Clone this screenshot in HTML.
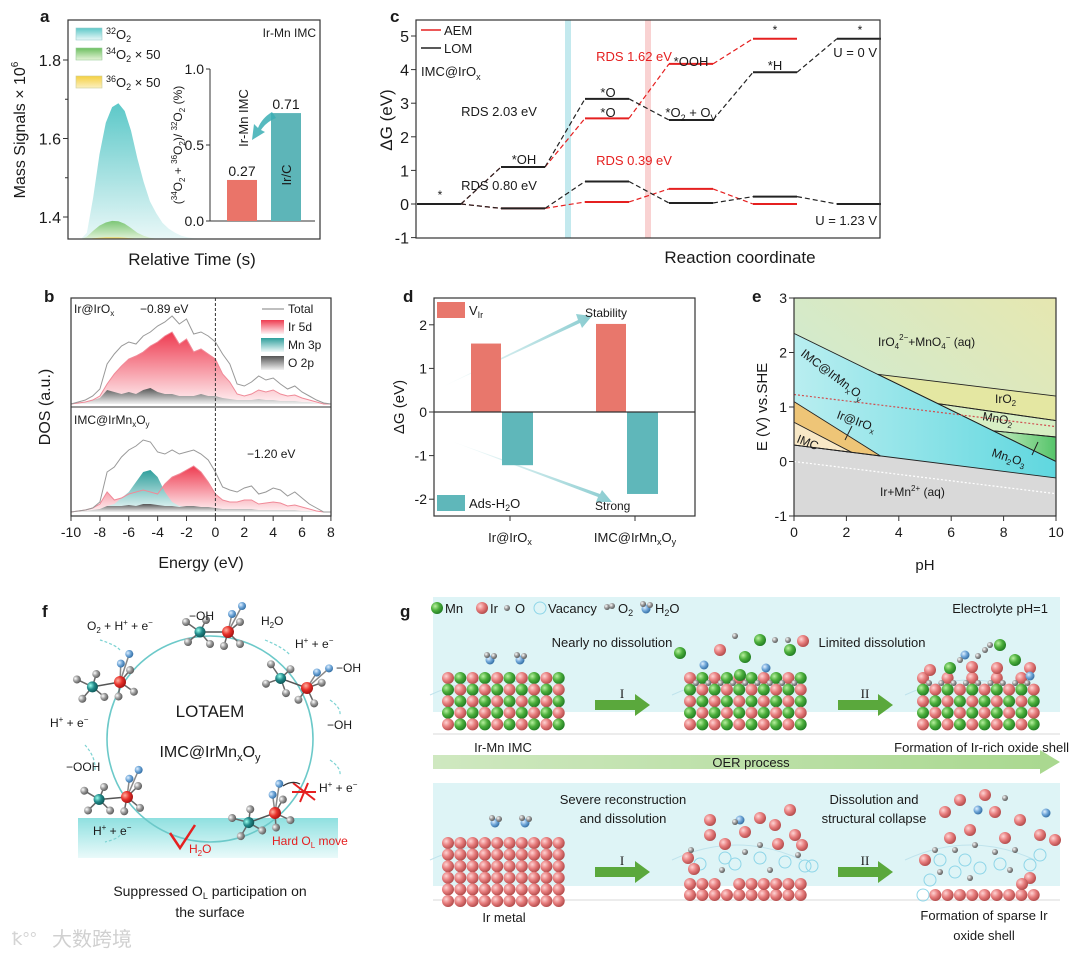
<!DOCTYPE html>
<html><head><meta charset="utf-8"><style>
html,body{margin:0;padding:0;background:#fff;}
svg{display:block;font-family:"Liberation Sans","Noto Sans CJK SC",sans-serif;}
text{fill:#1a1a1a;}
</style></head><body>
<svg id="fig" width="1080" height="956" viewBox="0 0 1080 956" xmlns="http://www.w3.org/2000/svg">
<defs>
<linearGradient id="gTeal" x1="0" y1="0" x2="0" y2="1"><stop offset="0" stop-color="#5cc8c8"/><stop offset="1" stop-color="#eaf8f8"/></linearGradient>
<linearGradient id="gGreen" x1="0" y1="0" x2="0" y2="1"><stop offset="0" stop-color="#6cbf60"/><stop offset="1" stop-color="#e6f4d8"/></linearGradient>
<linearGradient id="gYel" x1="0" y1="0" x2="0" y2="1"><stop offset="0" stop-color="#f5d040"/><stop offset="1" stop-color="#fbf0c0"/></linearGradient>
<linearGradient id="gRed" x1="0" y1="0" x2="0" y2="1"><stop offset="0" stop-color="#ee3b50"/><stop offset="1" stop-color="#fff2f4"/></linearGradient>
<linearGradient id="gMn" x1="0" y1="0" x2="0" y2="1"><stop offset="0" stop-color="#2f9f9c"/><stop offset="1" stop-color="#f0fafa"/></linearGradient>
<linearGradient id="gO" x1="0" y1="0" x2="0" y2="1"><stop offset="0" stop-color="#555"/><stop offset="1" stop-color="#f2f2f2"/></linearGradient>
<linearGradient id="gBg" x1="0" y1="1" x2="1" y2="0"><stop offset="0" stop-color="#c6ecdf"/><stop offset="1" stop-color="#e6e7b0"/></linearGradient>
<linearGradient id="gCyan" x1="0" y1="0" x2="1" y2="0"><stop offset="0" stop-color="#b9eef0"/><stop offset="1" stop-color="#5fd7df"/></linearGradient>
<linearGradient id="gMn2O3" x1="0" y1="0" x2="1" y2="0"><stop offset="0" stop-color="#c6ecc0"/><stop offset="1" stop-color="#55c46a"/></linearGradient>
<linearGradient id="gArr" x1="0" y1="0" x2="1" y2="0"><stop offset="0" stop-color="#4cb5bb" stop-opacity="0"/><stop offset="1" stop-color="#3aa9b0" stop-opacity="0.85"/></linearGradient>
<linearGradient id="gBand" x1="0" y1="0" x2="0" y2="1"><stop offset="0" stop-color="#8fe0e0"/><stop offset="1" stop-color="#eafafa"/></linearGradient>
<linearGradient id="gOER" x1="0" y1="0" x2="1" y2="0"><stop offset="0" stop-color="#cfe8c0"/><stop offset="1" stop-color="#a9d88f"/></linearGradient>
<radialGradient id="aMn" cx="0.35" cy="0.35" r="0.7"><stop offset="0" stop-color="#b8f0a0"/><stop offset="0.5" stop-color="#4caf3c"/><stop offset="1" stop-color="#1f7a22"/></radialGradient>
<radialGradient id="aIr" cx="0.35" cy="0.35" r="0.7"><stop offset="0" stop-color="#ffd4d4"/><stop offset="0.5" stop-color="#e77d7d"/><stop offset="1" stop-color="#b04848"/></radialGradient>
<radialGradient id="aO" cx="0.35" cy="0.35" r="0.7"><stop offset="0" stop-color="#fff"/><stop offset="0.5" stop-color="#9a9a9a"/><stop offset="1" stop-color="#555"/></radialGradient>
<radialGradient id="aH" cx="0.35" cy="0.35" r="0.7"><stop offset="0" stop-color="#e0f0ff"/><stop offset="0.5" stop-color="#6fa6d8"/><stop offset="1" stop-color="#2f6aa0"/></radialGradient>
<radialGradient id="aTeal" cx="0.35" cy="0.35" r="0.7"><stop offset="0" stop-color="#9fe"/><stop offset="0.5" stop-color="#228a8a"/><stop offset="1" stop-color="#0d5555"/></radialGradient>
<radialGradient id="aRed" cx="0.35" cy="0.35" r="0.7"><stop offset="0" stop-color="#ffb0a0"/><stop offset="0.5" stop-color="#e8312a"/><stop offset="1" stop-color="#a01010"/></radialGradient>
<clipPath id="clipA"><rect x="68" y="20" width="252" height="219"/></clipPath>
<clipPath id="clipE"><rect x="794" y="298" width="262" height="218"/></clipPath>
</defs>

<!-- PANEL A -->
<g id="panelA">
<text x="40" y="22" font-size="17" font-weight="bold">a</text>
<g id="aMarks" clip-path="url(#clipA)"></g>
<rect x="68" y="20" width="252" height="219" fill="none" stroke="#333" stroke-width="1.2"/>
<g id="aTicks"></g>
<text transform="translate(25,130) rotate(-90)" text-anchor="middle" font-size="16">Mass Signals × 10<tspan font-size="10" dy="-7">6</tspan></text>
<text x="192" y="265" text-anchor="middle" font-size="17">Relative Time (s)</text>
<rect x="76" y="28" width="26" height="12" fill="url(#gTeal)" stroke="#9cc" stroke-width="0.6"/>
<text x="106" y="39" font-size="13"><tspan font-size="9" dy="-5">32</tspan><tspan dy="5">O</tspan><tspan font-size="9" dy="3">2</tspan></text>
<rect x="76" y="48" width="26" height="12" fill="url(#gGreen)" stroke="#9c9" stroke-width="0.6"/>
<text x="106" y="59" font-size="13"><tspan font-size="9" dy="-5">34</tspan><tspan dy="5">O</tspan><tspan font-size="9" dy="3">2</tspan><tspan dy="-3"> × 50</tspan></text>
<rect x="76" y="76" width="26" height="12" fill="url(#gYel)" stroke="#cc9" stroke-width="0.6"/>
<text x="106" y="87" font-size="13"><tspan font-size="9" dy="-5">36</tspan><tspan dy="5">O</tspan><tspan font-size="9" dy="3">2</tspan><tspan dy="-3"> × 50</tspan></text>
<text x="316" y="37" text-anchor="end" font-size="12">Ir-Mn IMC</text>
<g id="aInset"></g>
<text transform="translate(182,145) rotate(-90)" text-anchor="middle" font-size="12">(<tspan font-size="8" dy="-5">34</tspan><tspan dy="5">O</tspan><tspan font-size="8" dy="3">2</tspan><tspan dy="-3"> + </tspan><tspan font-size="8" dy="-5">36</tspan><tspan dy="5">O</tspan><tspan font-size="8" dy="3">2</tspan><tspan dy="-3">)/ </tspan><tspan font-size="8" dy="-5">32</tspan><tspan dy="5">O</tspan><tspan font-size="8" dy="3">2</tspan><tspan dy="-3"> (%)</tspan></text>
<text transform="translate(248,118) rotate(-90)" text-anchor="middle" font-size="13">Ir-Mn IMC</text>
<text transform="translate(291,175) rotate(-90)" text-anchor="middle" font-size="13">Ir/C</text>
<path d="M272,112 Q262,118 258,128 L254,124 L252,140 L265,132 L261,130 Q266,122 276,118 Z" fill="#3aaeb4" opacity="0.85"/>
</g>

<!-- PANEL C -->
<g id="panelC">
<text x="390" y="22" font-size="17" font-weight="bold">c</text>
<rect x="565" y="20" width="6" height="218" fill="#c3e9ee"/>
<rect x="645" y="20" width="6" height="218" fill="#f9d2d2"/>
<g id="cMarks"></g>
<rect x="416" y="20" width="464" height="218" fill="none" stroke="#333" stroke-width="1.2"/>
<g id="cTicks"></g>
<text transform="translate(392,120) rotate(-90)" text-anchor="middle" font-size="17">ΔG (eV)</text>
<text x="740" y="263" text-anchor="middle" font-size="17">Reaction coordinate</text>
<line x1="421" y1="30" x2="441" y2="30" stroke="#e52020" stroke-width="1.6"/>
<text x="444" y="35" font-size="13">AEM</text>
<line x1="421" y1="48" x2="441" y2="48" stroke="#222" stroke-width="1.6"/>
<text x="444" y="53" font-size="13">LOM</text>
<text x="421" y="76" font-size="13">IMC@IrO<tspan font-size="9" dy="4">x</tspan></text>
<text x="440" y="199" text-anchor="middle" font-size="12">*</text>
<text x="524" y="164" text-anchor="middle" font-size="13">*OH</text>
<text x="499" y="116" text-anchor="middle" font-size="13">RDS 2.03 eV</text>
<text x="499" y="190" text-anchor="middle" font-size="13">RDS 0.80 eV</text>
<text x="608" y="97" text-anchor="middle" font-size="13">*O</text>
<text x="608" y="117" text-anchor="middle" font-size="13">*O</text>
<text x="634" y="61" text-anchor="middle" font-size="13" style="fill:#e52020">RDS 1.62 eV</text>
<text x="634" y="165" text-anchor="middle" font-size="13" style="fill:#e52020">RDS 0.39 eV</text>
<text x="691" y="66" text-anchor="middle" font-size="13">*OOH</text>
<text x="691" y="117" text-anchor="middle" font-size="13">*O<tspan font-size="9" dy="4">2</tspan><tspan dy="-4"> + O</tspan><tspan font-size="9" dy="4">V</tspan></text>
<text x="775" y="34" text-anchor="middle" font-size="12">*</text>
<text x="775" y="70" text-anchor="middle" font-size="13">*H</text>
<text x="860" y="34" text-anchor="middle" font-size="12">*</text>
<text x="877" y="57" text-anchor="end" font-size="13">U = 0 V</text>
<text x="877" y="225" text-anchor="end" font-size="13">U = 1.23 V</text>
</g>

<!-- PANEL B -->
<g id="panelB">
<text x="44" y="302" font-size="17" font-weight="bold">b</text>
<g id="bMarks"></g>
<rect x="71" y="298" width="260" height="218" fill="none" stroke="#333" stroke-width="1.2"/>
<line x1="71" y1="407" x2="331" y2="407" stroke="#333" stroke-width="1"/>
<line x1="215.4" y1="298" x2="215.4" y2="516" stroke="#333" stroke-dasharray="3,2" stroke-width="1"/>
<g id="bTicks"></g>
<text transform="translate(50,407) rotate(-90)" text-anchor="middle" font-size="16">DOS (a.u.)</text>
<text x="201" y="568" text-anchor="middle" font-size="16">Energy (eV)</text>
<text x="74" y="313" font-size="12">Ir@IrO<tspan font-size="8" dy="3">x</tspan></text>
<text x="140" y="313" font-size="12">−0.89 eV</text>
<text x="74" y="424" font-size="12">IMC@IrMn<tspan font-size="8" dy="3">x</tspan><tspan dy="-3">O</tspan><tspan font-size="8" dy="3">y</tspan></text>
<text x="247" y="458" font-size="12">−1.20 eV</text>
<line x1="262" y1="309" x2="284" y2="309" stroke="#999" stroke-width="1.2"/>
<text x="288" y="313" font-size="12">Total</text>
<rect x="261" y="320" width="23" height="14" fill="url(#gRed)"/>
<text x="288" y="331" font-size="12">Ir 5d</text>
<rect x="261" y="338" width="23" height="14" fill="url(#gMn)"/>
<text x="288" y="349" font-size="12">Mn 3p</text>
<rect x="261" y="356" width="23" height="14" fill="url(#gO)"/>
<text x="288" y="367" font-size="12">O 2p</text>
</g>

<!-- PANEL D -->
<g id="panelD">
<text x="403" y="302" font-size="17" font-weight="bold">d</text>
<path d="M440,388 L578,320 L576,314 L592,316 L582,328 L580,323 Z" fill="url(#gArr)" opacity="0.7"/>
<path d="M448,440 L598,497 L596,502 L612,502 L602,490 L600,494 Z" fill="url(#gArr)" opacity="0.7"/>
<g id="dMarks"></g>
<rect x="434" y="298" width="261" height="218" fill="none" stroke="#333" stroke-width="1.2"/>
<g id="dTicks"></g>
<text transform="translate(404,407) rotate(-90)" text-anchor="middle" font-size="15">ΔG (eV)</text>
<rect x="437" y="302" width="28" height="16" fill="#e8776c"/>
<text x="469" y="315" font-size="13">V<tspan font-size="9" dy="3">Ir</tspan></text>
<rect x="437" y="495" width="28" height="16" fill="#5fb7ba"/>
<text x="469" y="508" font-size="13">Ads-H<tspan font-size="9" dy="3">2</tspan><tspan dy="-3">O</tspan></text>
<text x="585" y="317" font-size="12">Stability</text>
<text x="595" y="510" font-size="12">Strong</text>
</g>

<!-- PANEL E -->
<g id="panelE">
<text x="752" y="302" font-size="17" font-weight="bold">e</text>
<g id="eMarks" clip-path="url(#clipE)"></g>
<rect x="794" y="298" width="262" height="218" fill="none" stroke="#333" stroke-width="1.2"/>
<g id="eTicks"></g>
<text transform="translate(767,407) rotate(-90)" text-anchor="middle" font-size="15">E (V) vs.SHE</text>
<text x="925" y="570" text-anchor="middle" font-size="15">pH</text>
<text x="878" y="346" font-size="12">IrO<tspan font-size="8" dy="3">4</tspan><tspan font-size="8" dy="-9">2−</tspan><tspan dy="6">+MnO</tspan><tspan font-size="8" dy="3">4</tspan><tspan font-size="8" dy="-9">−</tspan><tspan dy="6"> (aq)</tspan></text>
<text transform="translate(800,355) rotate(37)" font-size="12">IMC@IrMn<tspan font-size="8" dy="3">x</tspan><tspan dy="-3">O</tspan><tspan font-size="8" dy="3">y</tspan></text>
<text x="995" y="403" font-size="12">IrO<tspan font-size="8" dy="3">2</tspan></text>
<text transform="translate(982,420) rotate(10)" font-size="12">MnO<tspan font-size="8" dy="3">2</tspan></text>
<text transform="translate(836,418) rotate(20)" font-size="12">Ir@IrO<tspan font-size="8" dy="3">x</tspan></text>
<text transform="translate(796,442) rotate(22)" font-size="12">IMC</text>
<text transform="translate(991,456) rotate(18)" font-size="12">Mn<tspan font-size="8" dy="3">2</tspan><tspan dy="-3">O</tspan><tspan font-size="8" dy="3">3</tspan></text>
<text x="880" y="496" font-size="12">Ir+Mn<tspan font-size="8" dy="-5">2+</tspan><tspan dy="5"> (aq)</tspan></text>
<line x1="845" y1="440" x2="852" y2="426" stroke="#222" stroke-width="1"/>
<line x1="1032" y1="455" x2="1038" y2="442" stroke="#222" stroke-width="1"/>
</g>

<!-- PANEL F -->
<g id="panelF">
<text x="42" y="617" font-size="17" font-weight="bold">f</text>
<rect x="78" y="818" width="260" height="40" fill="url(#gBand)"/>
<circle cx="210" cy="739" r="103" fill="none" stroke="#6cc9c9" stroke-width="1.6"/>
<g id="fMarks"></g>
<text x="210" y="717" text-anchor="middle" font-size="17">LOTAEM</text>
<text x="210" y="757" text-anchor="middle" font-size="16">IMC@IrMn<tspan font-size="11" dy="4">x</tspan><tspan dy="-4">O</tspan><tspan font-size="11" dy="4">y</tspan></text>
<text x="87" y="630" font-size="12">O<tspan font-size="8" dy="3">2</tspan><tspan dy="-3"> + H</tspan><tspan font-size="8" dy="-5">+</tspan><tspan dy="5"> + e</tspan><tspan font-size="8" dy="-5">−</tspan></text>
<text x="189" y="620" font-size="12">−OH</text>
<text x="261" y="625" font-size="12">H<tspan font-size="8" dy="3">2</tspan><tspan dy="-3">O</tspan></text>
<text x="295" y="648" font-size="12">H<tspan font-size="8" dy="-5">+</tspan><tspan dy="5"> + e</tspan><tspan font-size="8" dy="-5">−</tspan></text>
<text x="336" y="672" font-size="12">−OH</text>
<text x="327" y="729" font-size="12">−OH</text>
<text x="319" y="792" font-size="12">H<tspan font-size="8" dy="-5">+</tspan><tspan dy="5"> + e</tspan><tspan font-size="8" dy="-5">−</tspan></text>
<text x="50" y="727" font-size="12">H<tspan font-size="8" dy="-5">+</tspan><tspan dy="5"> + e</tspan><tspan font-size="8" dy="-5">−</tspan></text>
<text x="66" y="771" font-size="12">−OOH</text>
<text x="93" y="835" font-size="12">H<tspan font-size="8" dy="-5">+</tspan><tspan dy="5"> + e</tspan><tspan font-size="8" dy="-5">−</tspan></text>
<path d="M170,833 L180,848 L195,825" fill="none" stroke="#e52020" stroke-width="2.5"/>
<text x="189" y="853" font-size="12" style="fill:#e52020">H<tspan font-size="8" dy="3">2</tspan><tspan dy="-3">O</tspan></text>
<text x="272" y="845" font-size="12" style="fill:#e52020">Hard O<tspan font-size="8" dy="3">L</tspan><tspan dy="-3"> move</tspan></text>
<path d="M293,783 L315,800 M300,802 L308,783 M292,792 L316,792" stroke="#e52020" stroke-width="2"/>
<path d="M300,784 Q292,780 283,786" fill="none" stroke="#333" stroke-width="1.2"/>
<text x="210" y="896" text-anchor="middle" font-size="14">Suppressed O<tspan font-size="9" dy="3">L</tspan><tspan dy="-3"> participation on</tspan></text>
<text x="210" y="917" text-anchor="middle" font-size="14">the surface</text>
<text x="12" y="945" font-size="18" style="fill:#d4d4d4">ꝁ°°</text>
<text x="52" y="946" font-size="20" font-family="'Noto Sans CJK SC',sans-serif" style="fill:#d0d0d0">大数跨境</text>
</g>

<!-- PANEL G -->
<g id="panelG">
<text x="400" y="617" font-size="17" font-weight="bold">g</text>
<rect x="433" y="597" width="627" height="115" fill="#def4f6"/>
<rect x="433" y="783" width="627" height="103" fill="#def4f6"/>
<line x1="433" y1="734" x2="1060" y2="734" stroke="#e6e6e6" stroke-width="1.5"/>
<line x1="433" y1="900" x2="1060" y2="900" stroke="#e6e6e6" stroke-width="1.5"/>
<path d="M433,755 L1040,755 L1040,750 L1060,762 L1040,774 L1040,769 L433,769 Z" fill="url(#gOER)"/>
<text x="751" y="767" text-anchor="middle" font-size="13">OER process</text>
<g id="gMarks"></g>
<text x="445" y="613" font-size="13">Mn</text>
<text x="490" y="613" font-size="13">Ir</text>
<text x="515" y="613" font-size="13">O</text>
<text x="548" y="613" font-size="13">Vacancy</text>
<text x="618" y="613" font-size="13">O<tspan font-size="9" dy="3">2</tspan></text>
<text x="655" y="613" font-size="13">H<tspan font-size="9" dy="3">2</tspan><tspan dy="-3">O</tspan></text>
<text x="1048" y="613" text-anchor="end" font-size="13">Electrolyte pH=1</text>
<text x="612" y="647" text-anchor="middle" font-size="13">Nearly no dissolution</text>
<text x="872" y="647" text-anchor="middle" font-size="13">Limited dissolution</text>
<text x="503" y="752" text-anchor="middle" font-size="13">Ir-Mn IMC</text>
<text x="1069" y="752" text-anchor="end" font-size="13">Formation of Ir-rich oxide shell</text>
<text x="623" y="804" text-anchor="middle" font-size="13">Severe reconstruction</text>
<text x="623" y="823" text-anchor="middle" font-size="13">and dissolution</text>
<text x="874" y="804" text-anchor="middle" font-size="13">Dissolution and</text>
<text x="874" y="823" text-anchor="middle" font-size="13">structural collapse</text>
<text x="504" y="922" text-anchor="middle" font-size="13">Ir metal</text>
<text x="984" y="920" text-anchor="middle" font-size="13">Formation of sparse Ir</text>
<text x="984" y="940" text-anchor="middle" font-size="13">oxide shell</text>
<text x="622" y="698" text-anchor="middle" font-size="13" font-family="'Liberation Serif',serif">I</text>
<text x="865" y="698" text-anchor="middle" font-size="13" font-family="'Liberation Serif',serif">II</text>
<text x="622" y="865" text-anchor="middle" font-size="13" font-family="'Liberation Serif',serif">I</text>
<text x="865" y="865" text-anchor="middle" font-size="13" font-family="'Liberation Serif',serif">II</text>
</g>
</svg>

<script>
// ---------- chart data ----------
// panel a
const aTime = [0,0.5,1,1.5,2,2.5,3,3.5,4,4.5,5,5.5,6,6.5,7,7.5,8,8.5,9,9.5,10,12,14,16,18,20];
const aO32 = [1.343,1.343,1.343,1.36,1.45,1.56,1.64,1.68,1.69,1.67,1.62,1.55,1.49,1.44,1.41,1.385,1.37,1.36,1.352,1.348,1.346,1.344,1.343,1.343,1.343,1.343];
const aO34 = [1.343,1.343,1.343,1.35,1.365,1.378,1.386,1.39,1.389,1.383,1.372,1.36,1.352,1.347,1.345,1.344,1.343,1.343,1.343,1.343,1.343,1.343,1.343,1.343,1.343,1.343];
const aO36 = [1.343,1.343,1.343,1.344,1.346,1.347,1.348,1.348,1.348,1.347,1.346,1.345,1.344,1.343,1.343,1.343,1.343,1.343,1.343,1.343,1.343,1.343,1.343,1.343,1.343,1.343];
const aYTicks = [1.4,1.6,1.8];
const aInsetCats = ['Ir-Mn IMC','Ir/C'];
const aInsetVals = [0.27,0.71];
const aInsetLabels = ['0.27','0.71'];
const aInsetTicks = [0.0,0.5,1.0];
const aInsetTickLabels = ['0.0','0.5','1.0'];
// panel c
const cAEM_U0 = [0,1.1,2.55,4.17,4.92];
const cLOM_U0 = [0,1.1,3.13,2.5,3.92,4.92];
const cAEM_U123 = [0,-0.13,0.06,0.45,0.0];
const cLOM_U123 = [0,-0.13,0.67,0.03,0.22,0.0];
const cYTicks = [-1,0,1,2,3,4,5];
// panel b
const bEnergy = [-10,-9.5,-9,-8.5,-8,-7.5,-7,-6.5,-6,-5.5,-5,-4.5,-4,-3.5,-3,-2.5,-2,-1.5,-1,-0.5,0,0.5,1,1.5,2,2.5,3,3.5,4,4.5,5,5.5,6,6.5,7,7.5,8];
const bTotTop = [0,2,4,8,15,40,50,58,62,60,68,72,78,82,88,80,85,70,72,68,62,50,40,20,18,22,28,24,26,20,15,18,12,8,4,1,0];
const bIrTop = [0,1,2,4,8,20,30,38,45,48,52,58,62,68,72,60,65,52,55,50,45,30,22,10,8,10,14,12,14,10,8,9,6,4,2,0,0];
const bOTop = [0,1,2,4,6,14,12,10,12,10,14,16,12,10,10,8,8,8,10,8,8,6,5,4,4,4,5,4,4,3,3,3,2,2,1,0,0];
const bTotBot = [0,1,2,4,10,40,45,55,62,66,72,70,60,58,62,58,60,62,58,52,40,25,22,20,24,26,18,20,24,22,16,20,14,8,4,0,0];
const bIrBot = [0,1,2,4,8,20,12,14,18,20,22,20,18,28,35,38,42,46,40,30,18,12,10,10,12,12,8,9,10,9,6,7,5,3,1,0,0];
const bMnBot = [0,0,1,2,3,6,8,14,20,30,40,42,35,20,10,6,5,4,4,3,3,2,2,2,2,2,1,1,1,1,1,1,0,0,0,0,0];
const bOBot = [0,1,1,2,3,6,6,6,7,6,8,8,7,6,6,5,6,6,5,5,4,3,3,3,3,3,2,2,2,2,2,2,1,1,0,0,0];
const bXTicks = [-10,-8,-6,-4,-2,0,2,4,6,8];
// panel d
const dCats = ['Ir@IrOx','IMC@IrMnxOy'];
const dVir = [1.57,2.02];
const dAds = [-1.22,-1.88];
const dYTicks = [-2,-1,0,1,2];
// panel e (vertices as [pH, E])
const eIrO2 = [[3.2,1.6],[10,1.2],[10,0.75],[5.5,1.06]];
const eMnO2 = [[5.5,1.06],[10,0.75],[10,0.45],[7.6,0.564]];
const eMn2O3 = [[7.6,0.564],[10,0.45],[10,0.0]];
const eIMCox = [[0,2.35],[10,0.0],[10,-0.3],[0,0.3]];
const eIrIrOx = [[0,1.1],[3.3,0.10],[0,0.3]];
const eIMC = [[0,0.72],[2.2,0.168],[0,0.3]];
const eIrMn = [[0,0.3],[10,-0.3],[10,-1],[0,-1]];
const eRedLine = [[0,1.23],[10,0.64]];
const eWhiteLine = [[0,0],[10,-0.59]];
const eXTicks = [0,2,4,6,8,10];
const eYTicks = [-1,0,1,2,3];

// ---------- helpers ----------
const NS='http://www.w3.org/2000/svg';
function mk(parent, tag, attrs, name){
  const el=document.createElementNS(NS,tag);
  for(const k in attrs){el.setAttribute(k,attrs[k]);}
  
  
  parent.appendChild(el);
  return el;
}
function txt(parent,x,y,s,size,anchor,name){
  const t=mk(parent,'text',{x:x,y:y,'font-size':size,'text-anchor':anchor},name);
  t.textContent=s; return t;
}
const $=id=>document.getElementById(id);

// ---------- panel a ----------
const xa=t=>68+t*12.6;
const ya=v=>217-(v-1.4)/0.2*78.5;
function areaPath(xs,ys,fx,fy,base){
  let d='M'+fx(xs[0])+','+base;
  for(let i=0;i<xs.length;i++){d+=' L'+fx(xs[i]).toFixed(1)+','+fy(ys[i]).toFixed(1);}
  d+=' L'+fx(xs[xs.length-1])+','+base+' Z'; return d;
}
mk($('aMarks'),'path',{d:areaPath(aTime,aO32,xa,ya,240),fill:'url(#gTeal)'},'peak-32o2');
mk($('aMarks'),'path',{d:areaPath(aTime,aO34,xa,ya,240),fill:'url(#gGreen)',opacity:0.85},'peak-34o2');
mk($('aMarks'),'path',{d:areaPath(aTime,aO36,xa,ya,240),fill:'url(#gYel)',opacity:0.9},'peak-36o2');
aYTicks.forEach(v=>{
  mk($('aTicks'),'line',{x1:63,x2:68,y1:ya(v),y2:ya(v),stroke:'#333'},'y-tick-a');
  txt($('aTicks'),61,ya(v)+6,v.toFixed(1),16,'end','y-tick-label-a');
});
[1.5,1.7].forEach(v=>{mk($('aTicks'),'line',{x1:65,x2:68,y1:ya(v),y2:ya(v),stroke:'#333'},'y-minor-tick-a');});
const yi=v=>221-v*152;
mk($('aInset'),'line',{x1:210,y1:69,x2:210,y2:221,stroke:'#333'},'inset-y-axis');
mk($('aInset'),'line',{x1:210,y1:221,x2:315,y2:221,stroke:'#333'},'inset-x-axis');
aInsetTicks.forEach((v,i)=>{
  mk($('aInset'),'line',{x1:206,x2:210,y1:yi(v),y2:yi(v),stroke:'#333'},'inset-y-tick');
  txt($('aInset'),204,yi(v)+5,aInsetTickLabels[i],14,'end','inset-y-tick-label');
});
const insetColors=['#ea7469','#5db5b8'];
aInsetVals.forEach((v,i)=>{
  const cx=242+i*44;
  const b=mk($('aInset'),'rect',{x:cx-15,y:yi(v),width:30,height:221-yi(v),fill:insetColors[i]},'inset-bar');
  
  txt($('aInset'),cx,yi(v)-4,aInsetLabels[i],14,'middle','inset-bar-value');
});

// ---------- panel c ----------
const yc=v=>204-v*33.6;
const colX=i=>417+i*84;
const cW=44;
function drawPath(levels,color,name){
  const g=$('cMarks');
  for(let i=0;i<levels.length-1;i++){
    mk(g,'line',{x1:colX(i)+cW,y1:yc(levels[i]),x2:colX(i+1),y2:yc(levels[i+1]),stroke:color,'stroke-width':1.2,'stroke-dasharray':'5,3'},name+'-connector');
  }
  levels.forEach((v,i)=>{
    mk(g,'line',{x1:colX(i),y1:yc(v),x2:colX(i)+cW,y2:yc(v),stroke:color,'stroke-width':2},name+'-level');
  });
}
drawPath(cAEM_U0,'#e52020','aem-u0');
drawPath(cAEM_U123,'#e52020','aem-u123');
drawPath(cLOM_U0,'#222','lom-u0');
drawPath(cLOM_U123,'#222','lom-u123');
cYTicks.forEach(v=>{
  mk($('cTicks'),'line',{x1:411,x2:416,y1:yc(v),y2:yc(v),stroke:'#333'},'y-tick-c');
  txt($('cTicks'),409,yc(v)+6,String(v),16,'end','y-tick-label-c');
});

// ---------- panel b ----------
const xb=e=>71+(e+10)*14.44;
function bArea(vals,base,fill,name){
  mk($('bMarks'),'path',{d:areaPath(bEnergy,vals,xb,v=>base-v,base),fill:fill},name);
}
function bLine(vals,base,color,name){
  let d='';
  bEnergy.forEach((e,i)=>{d+=(i?' L':'M')+xb(e).toFixed(1)+','+(base-vals[i]).toFixed(1);});
  mk($('bMarks'),'path',{d:d,fill:'none',stroke:color,'stroke-width':1},name);
}
bArea(bIrTop,404,'url(#gRed)','ir5d-top');
bArea(bOTop,404,'url(#gO)','o2p-top');
bLine(bIrTop,404,'#f08a98','ir5d-top-line');
bLine(bTotTop,404,'#999','total-top');
bArea(bIrBot,512,'url(#gRed)','ir5d-bottom');
bArea(bMnBot,512,'url(#gMn)','mn3p-bottom');
bArea(bOBot,512,'url(#gO)','o2p-bottom');
bLine(bIrBot,512,'#f08a98','ir5d-bottom-line');
bLine(bTotBot,512,'#999','total-bottom');
bXTicks.forEach(e=>{
  mk($('bTicks'),'line',{x1:xb(e),x2:xb(e),y1:516,y2:521,stroke:'#333'},'x-tick-b');
  txt($('bTicks'),xb(e),537,String(e),14,'middle','x-tick-label-b');
});

// ---------- panel d ----------
const yd=v=>412-v*43.6;
const dCenter=i=>502+i*125;
dVir.forEach((v,i)=>{
  mk($('dMarks'),'rect',{x:dCenter(i)-31,y:yd(v),width:30,height:yd(0)-yd(v),fill:'#e8776c'},'bar-vir-'+i);
});
dAds.forEach((v,i)=>{
  mk($('dMarks'),'rect',{x:dCenter(i),y:yd(0),width:31,height:yd(v)-yd(0),fill:'#5fb7ba'},'bar-ads-h2o-'+i);
});
mk($('dMarks'),'line',{x1:434,x2:695,y1:yd(0),y2:yd(0),stroke:'#333','stroke-width':1.2},'zero-line-d');
dYTicks.forEach(v=>{
  mk($('dTicks'),'line',{x1:429,x2:434,y1:yd(v),y2:yd(v),stroke:'#333'},'y-tick-d');
  txt($('dTicks'),427,yd(v)+5,String(v),14,'end','y-tick-label-d');
});
const dLabelG=$('dTicks');
dCats.forEach((c,i)=>{
  mk(dLabelG,'line',{x1:dCenter(i)+8,x2:dCenter(i)+8,y1:516,y2:521,stroke:'#333'},'x-tick-d');
  const t=mk(dLabelG,'text',{x:dCenter(i)+8,y:542,'font-size':13,'text-anchor':'middle'},'x-tick-label-d');
  if(c==='Ir@IrOx'){t.innerHTML='Ir@IrO<tspan font-size="9" dy="3">x</tspan>';}
  else{t.innerHTML='IMC@IrMn<tspan font-size="9" dy="3">x</tspan><tspan dy="-3">O</tspan><tspan font-size="9" dy="3">y</tspan>';}
});

// ---------- panel e ----------
const xe=p=>794+p*26.2;
const ye=v=>298+(3-v)*54.5;
const pts=a=>a.map(p=>xe(p[0]).toFixed(1)+','+ye(p[1]).toFixed(1)).join(' ');
const eg=$('eMarks');
mk(eg,'rect',{x:794,y:298,width:262,height:218,fill:'url(#gBg)'},'region-iro4-mno4');
mk(eg,'polygon',{points:pts(eIMCox),fill:'url(#gCyan)'},'region-imc-irmnxoy');
mk(eg,'polygon',{points:pts(eIrO2),fill:'#e4e7a2'},'region-iro2');
mk(eg,'polygon',{points:pts(eMnO2),fill:'#d8efc4'},'region-mno2');
mk(eg,'polygon',{points:pts(eMn2O3),fill:'url(#gMn2O3)'},'region-mn2o3');
mk(eg,'polygon',{points:pts(eIrIrOx),fill:'#eec577'},'region-ir-irox');
mk(eg,'polygon',{points:pts(eIMC),fill:'#f8e8c6'},'region-imc');
mk(eg,'polygon',{points:pts(eIrMn),fill:'#d9d9d9'},'region-ir-mn2');
[eIMCox,eIrO2,eMnO2,eMn2O3,eIrIrOx,eIMC].forEach(poly=>{
  mk(eg,'polygon',{points:pts(poly),fill:'none',stroke:'#222','stroke-width':0.9},'region-boundary');
});
mk(eg,'polyline',{points:pts(eRedLine),stroke:'#d05050','stroke-width':1.2,'stroke-dasharray':'2,2',fill:'none'},'oxygen-evolution-line');
mk(eg,'polyline',{points:pts(eWhiteLine),stroke:'#fff','stroke-width':1.2,'stroke-dasharray':'2,2',fill:'none'},'hydrogen-evolution-line');
eXTicks.forEach(p=>{
  mk($('eTicks'),'line',{x1:xe(p),x2:xe(p),y1:516,y2:521,stroke:'#333'},'x-tick-e');
  txt($('eTicks'),xe(p),537,String(p),14,'middle','x-tick-label-e');
});
eYTicks.forEach(v=>{
  mk($('eTicks'),'line',{x1:789,x2:794,y1:ye(v),y2:ye(v),stroke:'#333'},'y-tick-e');
  txt($('eTicks'),787,ye(v)+5,String(v),14,'end','y-tick-label-e');
});

// ---------- panel f molecules ----------
const fg=$('fMarks');
function ball(g,x,y,r,fill,name){mk(g,'circle',{cx:x,cy:y,r:r,fill:fill},name);}
function molecule(cx,cy,ang,name){
  const g=mk(fg,'g',{transform:'translate('+cx+','+cy+') rotate('+ang+')'},name);
  const tx=-28,ty=0;
  const grays=[[-42,-10],[-40,10],[-22,-12],[-18,12],[12,-10],[12,12],[-4,14]];
  grays.forEach(p=>{
    mk(g,'line',{x1:p[0]<-10?tx:0,y1:p[0]<-10?ty:0,x2:p[0],y2:p[1],stroke:'#666','stroke-width':1.5},'bond');
  });
  mk(g,'line',{x1:tx,y1:ty,x2:0,y2:0,stroke:'#555','stroke-width':1.5},'bond');
  const blues=[[4,-18],[14,-26]];
  blues.forEach(p=>{mk(g,'line',{x1:0,y1:0,x2:p[0],y2:p[1],stroke:'#888','stroke-width':1.5},'bond');});
  grays.forEach(p=>ball(g,p[0],p[1],4,'url(#aO)','o-atom'));
  blues.forEach(p=>ball(g,p[0],p[1],4,'url(#aH)','h-atom'));
  ball(g,tx,ty,5.5,'url(#aTeal)','mn-atom');
  ball(g,0,0,6,'url(#aRed)','ir-atom');
}
molecule(228,632,0,'molecule-top');
molecule(307,688,20,'molecule-right');
molecule(120,682,-10,'molecule-left-top');
molecule(127,797,-5,'molecule-left-bottom');
molecule(275,813,-20,'molecule-bottom-right');
[[120,650,100,640],[265,640,290,655],[330,700,340,715],[330,760,340,775],[95,770,85,745],[120,835,105,842]].forEach(a=>{
  mk(fg,'path',{d:'M'+a[0]+','+a[1]+' Q'+((a[0]+a[2])/2+6)+','+((a[1]+a[3])/2)+' '+a[2]+','+a[3],fill:'none',stroke:'#7dd3d3','stroke-width':1.2,'stroke-dasharray':'3,2'},'side-arrow');
});

// ---------- panel g atoms ----------
const gg=$('gMarks');
function atom(x,y,type,name){
  const f={Mn:'url(#aMn)',Ir:'url(#aIr)',O:'url(#aO)',H:'url(#aH)'}[type];
  const r={Mn:6,Ir:6,O:3,H:4.5}[type];
  ball(gg,x,y,r,f,name);
}
function vac(x,y){mk(gg,'circle',{cx:x,cy:y,r:6,fill:'none',stroke:'#8fd6e8','stroke-width':1},'vacancy');}
function water(x,y){atom(x,y,'H','water-h');atom(x-3,y-5,'O','water-o');atom(x+4,y-4,'O','water-o2');}
atom(437,608,'Mn','legend-mn-atom');atom(482,608,'Ir','legend-ir-atom');atom(507,608,'O','legend-o-atom');vac(540,608);
atom(607,607,'O','legend-o2-a');atom(612,606,'O','legend-o2-b');water(646,609);
[[430,690,560,690],[672,690,802,690],[905,690,1035,690],[430,855,560,855],[672,855,802,855],[905,855,1035,855]].forEach(a=>{
  mk(gg,'path',{d:'M'+a[0]+','+(a[1]+5)+' Q'+((a[0]+a[2])/2)+','+(a[1]-25)+' '+a[2]+','+(a[1]+5),fill:'none',stroke:'#bfe3ec','stroke-width':1},'surface-arc');
});
function grid(x0,y0,rows,cols,alt,skipTop){
  for(let r=0;r<rows;r++)for(let c=0;c<cols;c++){
    if(skipTop && r<skipTop.rows && skipTop.fn(r,c)) continue;
    atom(x0+c*12.3,y0+r*11.6,alt?((r+c)%2?'Mn':'Ir'):'Ir','lattice-atom');
  }
}
grid(448,678,5,10,true);
grid(690,678,5,10,true);
grid(923,678,5,10,true,{rows:1,fn:(r,c)=>c%2===1});
for(let c=0;c<9;c++){atom(696+c*12.3,683,'O','surface-o');atom(929+c*12.3,683,'O','surface-o');}
[[680,653,'Mn'],[720,650,'Ir'],[745,657,'Mn'],[760,640,'Mn'],[790,650,'Mn'],[803,641,'Ir'],[740,675,'Mn'],[704,665,'H'],[766,668,'H'],[775,640,'O'],[788,640,'O'],[735,636,'O']].forEach(a=>atom(a[0],a[1],a[2],'dissolved-atom'));
[[1000,645,'Mn'],[1015,660,'Mn'],[930,670,'Ir'],[950,668,'Mn'],[972,667,'Ir'],[997,668,'Ir'],[1030,668,'Ir'],[965,655,'H'],[1030,676,'H'],[985,650,'O'],[960,660,'O'],[978,656,'O'],[990,645,'O']].forEach(a=>atom(a[0],a[1],a[2],'dissolved-atom'));
water(490,660);water(520,660);water(495,823);water(525,823);
grid(448,843,6,10,false);
for(let c=0;c<10;c++){atom(690+c*12.3,895,'Ir','lattice-atom');}
for(let c=0;c<10;c++){ if(c!==3) atom(690+c*12.3,884,'Ir','lattice-atom');}
[[700,864],[725,858],[760,858],[785,862],[805,866],[812,866],[735,864]].forEach(p=>vac(p[0],p[1]));
[[688,858,'Ir'],[694,869,'Ir'],[725,844,'Ir'],[745,832,'Ir'],[760,818,'Ir'],[710,820,'Ir'],[775,825,'Ir'],[790,810,'Ir'],[795,835,'Ir'],[802,845,'Ir'],[778,844,'Ir'],[710,835,'Ir'],[691,850,'O'],[722,870,'O'],[745,852,'O'],[770,870,'O'],[798,855,'O'],[760,845,'O'],[740,820,'H'],[735,822,'O']].forEach(a=>atom(a[0],a[1],a[2],'reconstructed-atom'));
for(let c=1;c<10;c++){atom(923+c*12.3,895,'Ir','lattice-atom');}
[[923,895],[930,880],[955,872],[980,868],[1000,864],[940,860],[965,860],[1030,865],[1040,855]].forEach(p=>vac(p[0],p[1]));
[[925,860,'Ir'],[1030,878,'Ir'],[1022,884,'Ir'],[950,838,'Ir'],[970,830,'Ir'],[1005,838,'Ir'],[1020,820,'Ir'],[1040,835,'Ir'],[995,812,'Ir'],[1055,840,'Ir'],[945,812,'Ir'],[960,800,'Ir'],[985,795,'Ir'],[935,850,'O'],[955,850,'O'],[975,845,'O'],[995,852,'O'],[1015,850,'O'],[940,872,'O'],[970,878,'O'],[1010,870,'O'],[978,810,'H'],[1046,813,'H'],[1005,798,'O']].forEach(a=>atom(a[0],a[1],a[2],'collapsed-atom'));
[[595,705],[838,705],[595,872],[838,872]].forEach(p=>{
  mk(gg,'path',{d:'M'+p[0]+','+(p[1]-5)+' h40 v-6 l15,11 l-15,11 v-6 h-40 Z',fill:'#5aa83c'},'step-arrow');
});
</script>
</body></html>
